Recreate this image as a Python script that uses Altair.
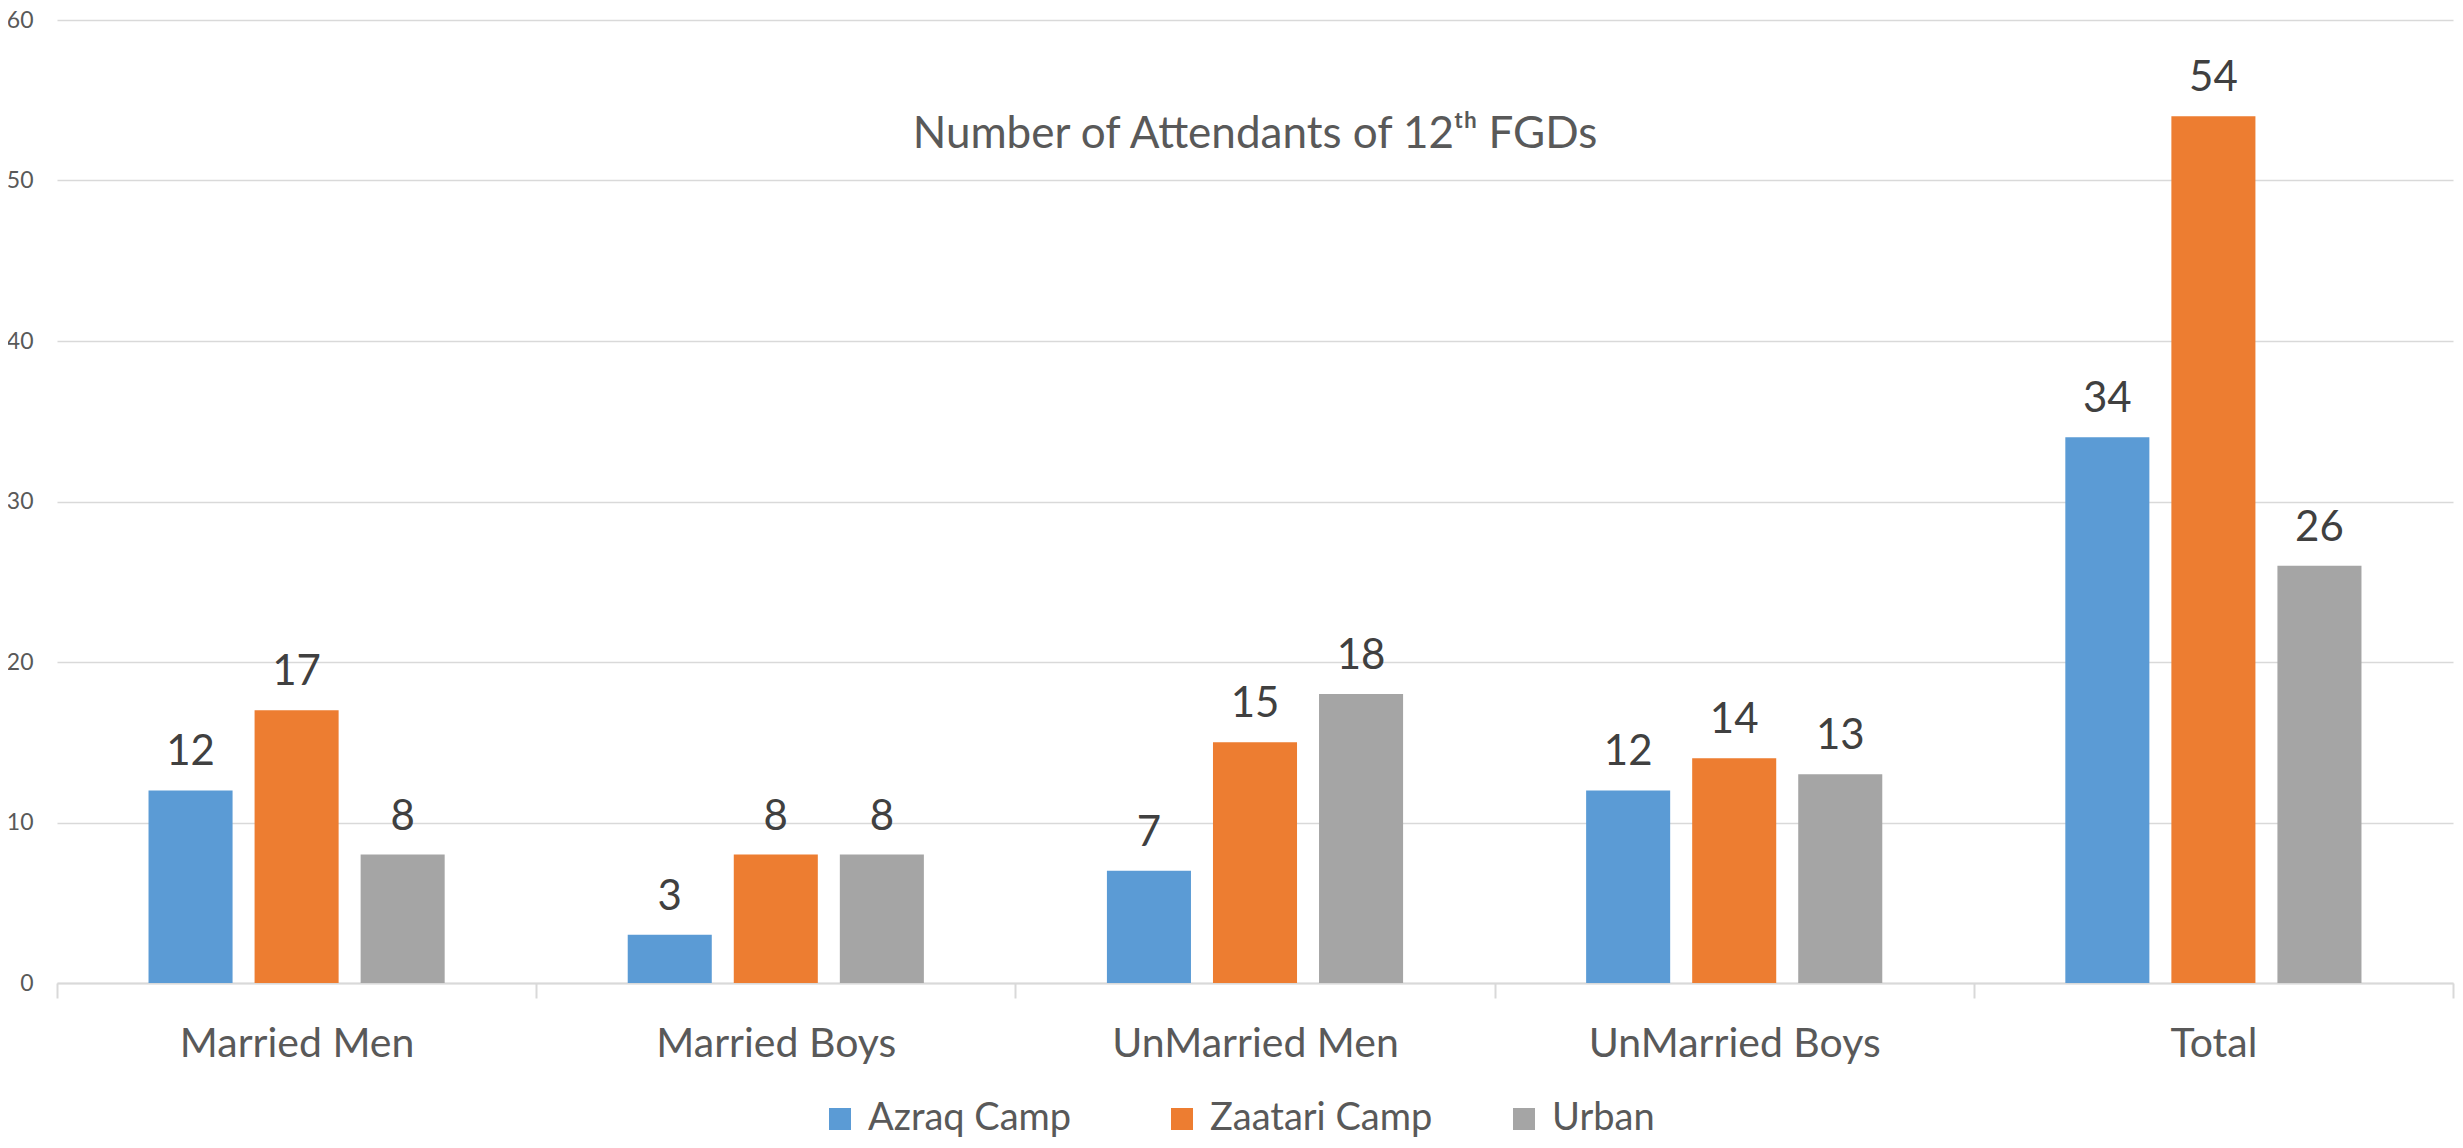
import altair as alt
import pandas as pd

categories = ["Married Men", "Married Boys", "UnMarried Men", "UnMarried Boys", "Total"]
series = ["Azraq Camp", "Zaatari Camp", "Urban"]
azraq = [12, 3, 7, 12, 34]
zaatari = [17, 8, 15, 14, 54]
urban = [8, 8, 18, 13, 26]
colors = ["#5B9BD5", "#ED7D31", "#A5A5A5"]

rows = []
for s, vals in zip(series, [azraq, zaatari, urban]):
    for c, v in zip(categories, vals):
        rows.append({"category": c, "series": s, "value": v})
df = pd.DataFrame(rows)

FONT = "Lato"
W, H = 2396, 963

base = alt.Chart(df).encode(
    x=alt.X("category:N", sort=categories, title=None,
            scale=alt.Scale(paddingInner=0, paddingOuter=0),
            axis=alt.Axis(labelAngle=0, tickBand="extent", tickSize=15,
                          tickColor="#d9d9d9", tickWidth=2,
                          domainColor="#d9d9d9", domainWidth=2,
                          labelFont=FONT, labelFontSize=41, labelColor="#595959",
                          labelLimit=0,
                          labelPadding=26, labelBaseline="top", grid=False)),
    xOffset=alt.XOffset("series:N", sort=series,
                        scale=alt.Scale(paddingInner=0.2075, paddingOuter=0.863)),
    y=alt.Y("value:Q", title=None,
            scale=alt.Scale(domain=[0, 60]),
            axis=alt.Axis(values=[0, 10, 20, 30, 40, 50, 60], domain=False, ticks=False,
                          gridColor="#d9d9d9", gridWidth=1.5,
                          labelFont=FONT, labelFontSize=23, labelColor="#595959",
                          labelPadding=24)),
)

bars = base.mark_bar().encode(
    color=alt.Color("series:N", sort=series,
                    scale=alt.Scale(domain=series, range=colors),
                    legend=alt.Legend(title=None, orient="none", direction="horizontal",
                                      legendX=764, legendY=1080,
                                      symbolType="square", symbolSize=484,
                                      symbolStrokeWidth=0, labelFont=FONT,
                                      labelFontSize=38, labelColor="#595959",
                                      labelLimit=0, gridAlign="all",
                                      labelOffset=9, columnPadding=72))
)

labels = base.mark_text(baseline="alphabetic", dy=-25, font=FONT, fontSize=42,
                        color="#404040").encode(text="value:Q")

chart = alt.layer(bars, labels).properties(
    width=W, height=H,
    autosize=alt.AutoSizeParams(type="none"),
    padding={"left": 49, "top": 12, "right": 2, "bottom": 164},
    title=alt.TitleParams("Number of Attendants of 12ᵗʰ FGDs", font=FONT, fontSize=44,
                          fontWeight="normal", color="#595959", anchor="middle",
                          offset=-148),
).configure_view(stroke=None)

chart.save("out.html", embed_options={"renderer": "svg", "actions": False})
